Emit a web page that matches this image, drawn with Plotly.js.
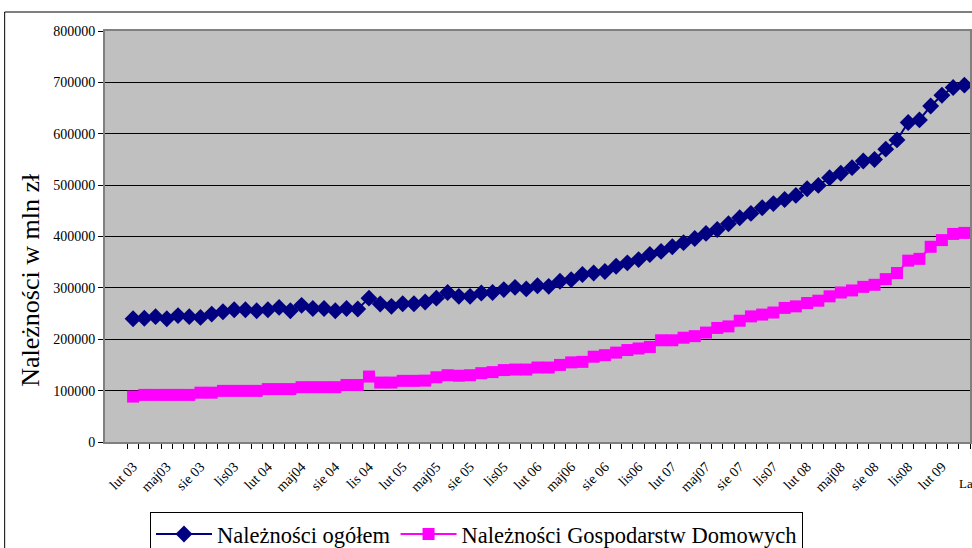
<!DOCTYPE html>
<html>
<head>
<meta charset="utf-8">
<script src="https://cdn.plot.ly/plotly-3.0.1.min.js"></script>
<style>html,body{margin:0;padding:0;background:#fff;}#chart{width:972px;height:548px;}</style>
</head>
<body>
<div id="chart"></div>
<script>
// Months (categories), Feb 2003 .. Apr 2009
const months = [
 "lut 03","mar 03","kwi 03","maj 03","cze 03","lip 03","sie 03","wrz 03","paź 03","lis 03","gru 03",
 "sty 04","lut 04","mar 04","kwi 04","maj 04","cze 04","lip 04","sie 04","wrz 04","paź 04","lis 04","gru 04",
 "sty 05","lut 05","mar 05","kwi 05","maj 05","cze 05","lip 05","sie 05","wrz 05","paź 05","lis 05","gru 05",
 "sty 06","lut 06","mar 06","kwi 06","maj 06","cze 06","lip 06","sie 06","wrz 06","paź 06","lis 06","gru 06",
 "sty 07","lut 07","mar 07","kwi 07","maj 07","cze 07","lip 07","sie 07","wrz 07","paź 07","lis 07","gru 07",
 "sty 08","lut 08","mar 08","kwi 08","maj 08","cze 08","lip 08","sie 08","wrz 08","paź 08","lis 08","gru 08",
 "sty 09","lut 09","mar 09","kwi 09"
];
// Tick labels shown (every 3rd month from lut 03)
const tickLabels = [
 "lut 03","maj03","sie 03","lis03","lut 04","maj04","sie 04","lis 04",
 "lut 05","maj05","sie 05","lis05","lut 06","maj06","sie 06","lis06",
 "lut 07","maj07","sie 07","lis07","lut 08","maj08","sie 08","lis08","lut 09"
];
const ogolem = [
 240000,241000,244000,240000,246000,244000,242500,249000,253600,257500,257500,
 255600,257500,262000,255600,266000,260000,260000,255600,260000,259000,280000,268700,
 264000,269000,269000,272600,280000,291000,283500,283500,290000,291000,296600,301000,
 298000,304000,303000,312800,316000,326000,329000,332000,342000,348700,355000,365000,
 371000,380000,388000,396000,406000,413700,424700,436500,445000,456000,464000,472000,
 480000,493000,499500,514500,523000,534000,547000,550000,570000,588000,622000,627000,
 654000,675000,690000,694600
];
const gospodarstwa = [
 88400,91700,91700,91700,91700,91700,96000,96000,99500,99500,99500,
 99500,103000,103000,103000,106700,106700,106700,106700,111000,111000,127400,115700,
 115700,119000,119000,119500,126000,130000,129000,130000,134000,136000,140000,141000,
 141000,145000,145000,150000,155000,156000,166000,169000,174000,179000,182000,185000,
 198000,198000,203000,206000,213000,222000,225000,236000,244500,248000,252000,261000,
 264000,270600,275000,283500,291000,295000,302000,306000,317000,329000,353000,356500,
 380000,393000,405000,407000
];
const seriesNames = ["Należności ogółem", "Należności Gospodarstw Domowych"];
const yTitle = "Należności w mln zł";
const xTitle = "La";

const tickText = months.map((m, i) => (i % 3 === 0 ? tickLabels[i / 3] : ""));
const serif = "Liberation Serif";

const traces = [
 {x: months, y: ogolem, name: seriesNames[0], type: "scatter", mode: "lines+markers",
  line: {color: "#000080", width: 2}, marker: {symbol: "diamond", size: 13, color: "#000080"}},
 {x: months, y: gospodarstwa, name: seriesNames[1], type: "scatter", mode: "lines+markers",
  line: {color: "#FF00FF", width: 2}, marker: {symbol: "square", size: 12, color: "#FF00FF"}}
];

const layout = {
 width: 972, height: 548,
 margin: {l: 105, r: 2, t: 31, b: 106, autoexpand: false},
 paper_bgcolor: "#ffffff", plot_bgcolor: "#C0C0C0",
 font: {family: serif, color: "#000"},
 showlegend: true,
 legend: {orientation: "h", x: 0.052, xanchor: "left", y: -0.17, yanchor: "top",
  bordercolor: "#000", borderwidth: 1, bgcolor: "#fff", itemwidth: 56,
  font: {family: serif, size: 22.5, color: "#000"}, traceorder: "normal"},
 xaxis: {type: "category", categoryorder: "array", categoryarray: months,
  range: [-2.5, 74.5], tickson: "boundaries", tickmode: "array", tickvals: months, ticktext: tickText,
  tickangle: -45, ticks: "outside", ticklen: 5, tickcolor: "#000", tickwidth: 1, ticklabelstandoff: 9,
  showgrid: false, showline: true, linecolor: "#808080", linewidth: 2, mirror: true,
  tickfont: {family: serif, size: 14, color: "#000"}, zeroline: false},
 yaxis: {range: [0, 800000], dtick: 100000, tickformat: "d", ticks: "outside", ticklen: 5,
  tickcolor: "#000", showgrid: true, gridcolor: "#000", gridwidth: 1,
  showline: true, linecolor: "#808080", linewidth: 2, mirror: true, zeroline: false,
  tickfont: {family: serif, size: 14, color: "#000"}},
 shapes: [
  {type: "rect", xref: "paper", yref: "paper", x0: -0.116, x1: 1.2, y0: -0.5, y1: 1.0462,
   line: {color: "#000", width: 1}, fillcolor: "rgba(0,0,0,0)", layer: "below"}
 ],
 annotations: [
  {text: yTitle, xref: "paper", yref: "paper", x: -0.087, y: 0.394, xanchor: "center", yanchor: "middle",
   textangle: -90, showarrow: false, font: {family: serif, size: 26, color: "#000"}},
  {text: xTitle, xref: "paper", yref: "paper", x: 0.985, y: -0.1, xanchor: "left", yanchor: "middle",
   showarrow: false, font: {family: serif, size: 13, color: "#000"}}
 ]
};

Plotly.newPlot("chart", traces, layout, {displayModeBar: false, staticPlot: true});
</script>
</body>
</html>
